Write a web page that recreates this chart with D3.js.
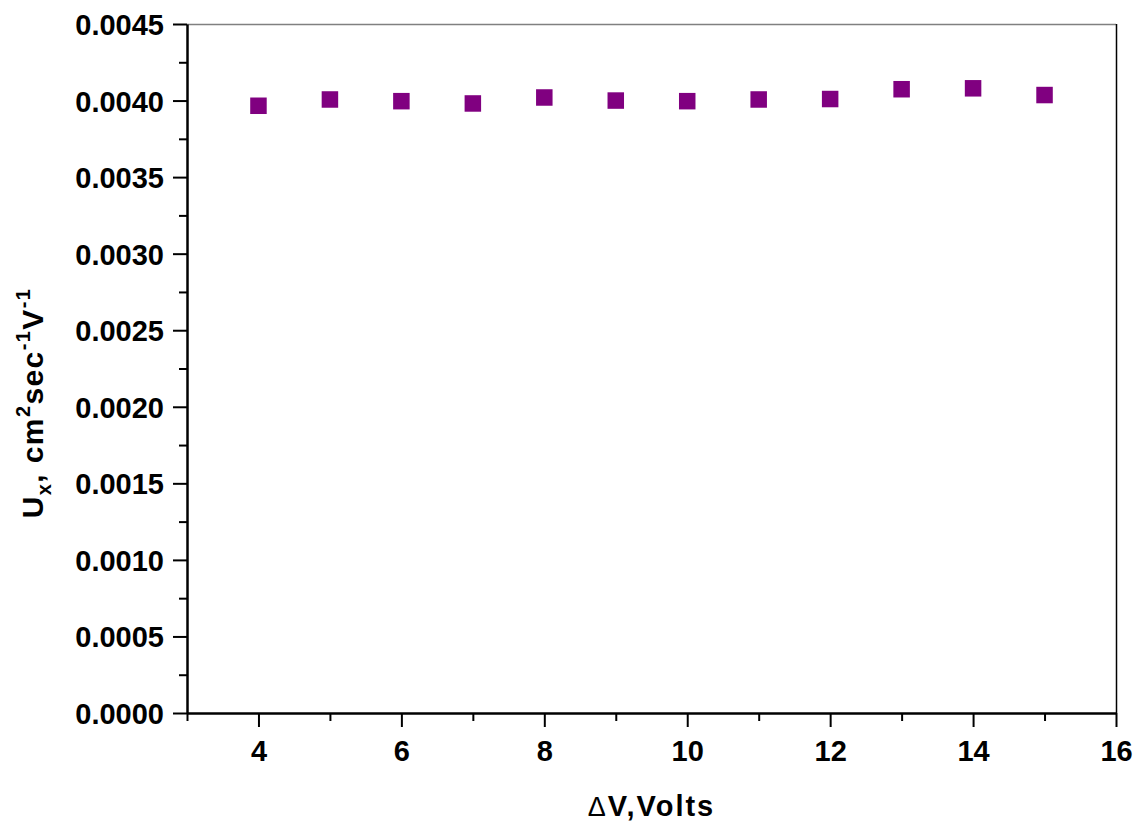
<!DOCTYPE html>
<html>
<head>
<meta charset="utf-8">
<script src="https://cdn.jsdelivr.net/npm/d3@7"></script>
<style>
  html, body { margin: 0; padding: 0; background: #fff; }
  svg { display: block; }
  text { font-family: "Liberation Sans", Arial, sans-serif; font-weight: bold; fill: #000; }
</style>
</head>
<body>
<svg id="chart" width="1141" height="822"></svg>
<script>
// ---- data ----
const voltage = [4, 5, 6, 7, 8, 9, 10, 11, 12, 13, 14, 15];
const mobility = [0.003966, 0.004007, 0.003996, 0.003981, 0.004020, 0.004000,
                  0.003996, 0.004007, 0.004010, 0.004074, 0.004080, 0.004036];
const xMajorTicks = [4, 6, 8, 10, 12, 14, 16];
const xMinorTicks = [3, 5, 7, 9, 11, 13, 15];
const yMajorTicks = [0, 0.0005, 0.0010, 0.0015, 0.0020, 0.0025, 0.0030, 0.0035, 0.0040, 0.0045];
const yMinorTicks = [0.00025, 0.00075, 0.00125, 0.00175, 0.00225, 0.00275, 0.00325, 0.00375, 0.00425];
const xTitle = "\u0394V,Volts";

// ---- layout ----
const mLeft = 187, mRight = 1116, mTop = 24, mBottom = 713;
const svg = d3.select("#chart");
svg.append("rect").attr("width", 1141).attr("height", 822).attr("fill", "#fff");

const x = d3.scaleLinear().domain([3, 16]).range([mLeft, mRight]);
const y = d3.scaleLinear().domain([0, 0.0045]).range([mBottom, mTop]);

// frame (top gray, right black)
svg.append("line").attr("x1", mLeft).attr("x2", mRight).attr("y1", mTop + 0.5).attr("y2", mTop + 0.5)
  .attr("stroke", "#808080").attr("stroke-width", 1.5);
svg.append("line").attr("x1", mRight + 0.5).attr("x2", mRight + 0.5).attr("y1", mTop).attr("y2", mBottom)
  .attr("stroke", "#000").attr("stroke-width", 1.5);

// x axis
const gx = svg.append("g").attr("transform", `translate(0,${mBottom})`);
gx.call(d3.axisBottom(x).tickValues(xMajorTicks).tickSize(14).tickSizeOuter(0).tickPadding(13)
  .tickFormat(d3.format("d")));
const gxm = svg.append("g").attr("transform", `translate(0,${mBottom})`);
gxm.call(d3.axisBottom(x).tickValues(xMinorTicks).tickSize(8).tickSizeOuter(0).tickFormat(""));
gxm.select(".domain").remove();

// y axis
const gy = svg.append("g").attr("transform", `translate(${mLeft},0)`);
gy.call(d3.axisLeft(y).tickValues(yMajorTicks).tickSize(14).tickSizeOuter(0).tickPadding(9)
  .tickFormat(d3.format(".4f")));
const gym = svg.append("g").attr("transform", `translate(${mLeft},0)`);
gym.call(d3.axisLeft(y).tickValues(yMinorTicks).tickSize(8).tickSizeOuter(0).tickFormat(""));
gym.select(".domain").remove();

svg.selectAll(".domain").attr("stroke", "#000").attr("stroke-width", 2.5);
svg.selectAll(".tick line").attr("stroke", "#000").attr("stroke-width", 2);
svg.selectAll(".tick text").attr("font-family", "Liberation Sans, Arial, sans-serif")
  .attr("font-weight", "bold").attr("font-size", 29).attr("fill", "#000");
gy.selectAll(".tick text").attr("dy", "0.36em");

// markers
const sz = 16.5;
svg.append("g").selectAll("rect").data(voltage).join("rect")
  .attr("x", (d) => x(d) - sz / 2)
  .attr("y", (d, i) => y(mobility[i]) - sz / 2)
  .attr("width", sz).attr("height", sz)
  .attr("fill", "#800080");

// x title
const xt = svg.append("text").attr("x", (mLeft + mRight) / 2).attr("y", 816)
  .attr("text-anchor", "middle").attr("font-size", 29).attr("letter-spacing", 2);
xt.append("tspan").attr("font-weight", "normal").attr("font-size", 27).text(xTitle.charAt(0));
xt.append("tspan").text(xTitle.slice(1));

// y title
const yt = svg.append("text").attr("transform", "translate(43,403) rotate(-90)")
  .attr("text-anchor", "middle").attr("font-size", 30).attr("letter-spacing", 1.4);
yt.append("tspan").text("U");
yt.append("tspan").attr("font-size", 20).attr("dy", 8).text("x");
yt.append("tspan").attr("dy", -8).text(", cm");
yt.append("tspan").attr("font-size", 20).attr("dy", -13).text("2");
yt.append("tspan").attr("dy", 13).text("sec");
yt.append("tspan").attr("font-size", 20).attr("dy", -13).text("-1");
yt.append("tspan").attr("dy", 13).text("V");
yt.append("tspan").attr("font-size", 20).attr("dy", -13).text("-1");
</script>
</body>
</html>
